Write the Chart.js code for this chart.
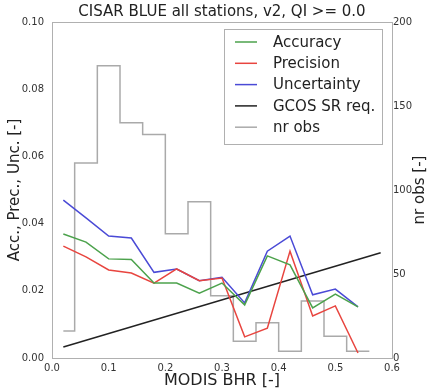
<!DOCTYPE html>
<html>
<head>
<meta charset="utf-8">
<script src="https://cdn.jsdelivr.net/npm/chart.js@4"></script>
<style>
  body { margin: 0; background: #fff; }
  #wrap { width: 428px; height: 392px; }
</style>
</head>
<body>
<div id="wrap"><canvas id="chart" width="428" height="392"></canvas></div>
<script>
// albedo bins (MODIS BHR) and stats
const binCenters = [0.02, 0.06, 0.10, 0.14, 0.18, 0.22, 0.26, 0.30, 0.34, 0.38, 0.42, 0.46, 0.50, 0.54];
const accuracy    = [0.0369, 0.0345, 0.0295, 0.0293, 0.0223, 0.0223, 0.0193, 0.0223, 0.0158, 0.0304, 0.0277, 0.0149, 0.0190, 0.0152];
const precision   = [0.0333, 0.0301, 0.0262, 0.0253, 0.0223, 0.0265, 0.0230, 0.0238, 0.0063, 0.0089, 0.0318, 0.0125, 0.0155, 0.0015];
const uncertainty = [0.0470, 0.0417, 0.0363, 0.0357, 0.0255, 0.0265, 0.0230, 0.0240, 0.0164, 0.0318, 0.0363, 0.0188, 0.0205, 0.0152];

// GCOS requirement line end points
const gcosX = [0.02, 0.58];
const gcosY = [0.0033, 0.0313];

// nr obs step outline (value holds from edge to next edge)
const obsEdges = [0.02, 0.04, 0.08, 0.12, 0.16, 0.20, 0.24, 0.28, 0.32, 0.36, 0.40, 0.44, 0.48, 0.52, 0.56];
const obsCount = [16, 116, 174, 140, 133, 74, 93, 37, 10, 21, 4, 34, 13, 4, 4];

const xTicks = [0, 0.1, 0.2, 0.3, 0.4, 0.5, 0.6];
const leftTicks = [0, 0.02, 0.04, 0.06, 0.08, 0.10];
const rightTicks = [0, 50, 100, 150, 200];

const FONT = 'DejaVu Sans';

function pts(xs, ys) {
    return xs.map((x, i) => ({ x: x, y: ys[i] }));
}

// title, frame, right axis label and boxed legend, like matplotlib
const extras = {
    id: 'extras',
    afterDraw(chart) {
        const ctx = chart.ctx;
        const a = chart.chartArea;
        ctx.save();
        ctx.strokeStyle = '#b0b0b0';
        ctx.lineWidth = 1;
        ctx.strokeRect(a.left + 0.5, a.top + 0.5, a.right - a.left, a.bottom - a.top);

        ctx.fillStyle = '#222';
        ctx.font = '15px "' + FONT + '"';
        ctx.textAlign = 'center';
        ctx.textBaseline = 'middle';
        ctx.fillText('CISAR BLUE all stations, v2, QI >= 0.0', (a.left + a.right) / 2, 12);

        ctx.save();
        ctx.translate(420, (a.top + a.bottom) / 2);
        ctx.rotate(-Math.PI / 2);
        ctx.font = '15px "' + FONT + '"';
        ctx.fillText('nr obs [-]', 0, 0);
        ctx.restore();

        // legend box
        const bx = 224, by = 29, bw = 158, bh = 115;
        ctx.fillStyle = '#fff';
        ctx.fillRect(bx, by, bw, bh);
        ctx.strokeStyle = '#b0b0b0';
        ctx.strokeRect(bx + 0.5, by + 0.5, bw, bh);
        ctx.font = '15px "' + FONT + '"';
        ctx.textAlign = 'left';
        chart.data.datasets.forEach((ds, i) => {
            const y = 42 + i * 21.3;
            ctx.strokeStyle = ds.borderColor;
            ctx.lineWidth = 1.5;
            ctx.beginPath();
            ctx.moveTo(235, y);
            ctx.lineTo(257, y);
            ctx.stroke();
            ctx.fillStyle = '#222';
            ctx.fillText(ds.label, 273, y + 1);
        });
        ctx.restore();
    }
};

new Chart(document.getElementById('chart'), {
    type: 'line',
    data: {
        datasets: [
            { label: 'Accuracy', data: pts(binCenters, accuracy), borderColor: '#4ca24c', yAxisID: 'y' },
            { label: 'Precision', data: pts(binCenters, precision), borderColor: '#e8453f', yAxisID: 'y' },
            { label: 'Uncertainty', data: pts(binCenters, uncertainty), borderColor: '#4a4ad6', yAxisID: 'y' },
            { label: 'GCOS SR req.', data: pts(gcosX, gcosY), borderColor: '#222222', yAxisID: 'y' },
            { label: 'nr obs', data: pts(obsEdges, obsCount), borderColor: '#aaaaaa', yAxisID: 'y2', stepped: true }
        ]
    },
    options: {
        responsive: false,
        animation: false,
        layout: { padding: { top: 22, left: 0, right: 0, bottom: 0 } },
        elements: {
            point: { radius: 0 },
            line: { borderWidth: 1.5, tension: 0, fill: false }
        },
        plugins: {
            legend: { display: false },
            title: { display: false },
            tooltip: { enabled: false }
        },
        scales: {
            x: {
                type: 'linear',
                min: 0, max: 0.6,
                afterFit: s => { s.height = 34; },
                afterBuildTicks: s => { s.ticks = xTicks.map(v => ({ value: v })); },
                grid: { display: false },
                border: { display: false },
                ticks: {
                    padding: -4,
                    maxRotation: 0,
                    font: { family: FONT, size: 10 },
                    color: '#333',
                    callback: v => v.toFixed(1)
                },
                title: {
                    display: true,
                    text: 'MODIS BHR [-]',
                    font: { family: FONT, size: 16 },
                    color: '#222',
                    padding: { top: 0, bottom: 2 }
                }
            },
            y: {
                position: 'left',
                min: 0, max: 0.1,
                afterFit: s => { s.width = 52; },
                afterBuildTicks: s => { s.ticks = leftTicks.map(v => ({ value: v })); },
                grid: { display: false },
                border: { display: false },
                ticks: {
                    padding: 0,
                    font: { family: FONT, size: 10 },
                    color: '#333',
                    callback: v => v.toFixed(2)
                },
                title: {
                    display: true,
                    text: 'Acc., Prec., Unc. [-]',
                    font: { family: FONT, size: 15 },
                    color: '#222',
                    padding: { top: 6, bottom: 0 }
                }
            },
            y2: {
                position: 'right',
                min: 0, max: 200,
                afterFit: s => { s.width = 36; },
                afterBuildTicks: s => { s.ticks = rightTicks.map(v => ({ value: v })); },
                grid: { display: false },
                border: { display: false },
                ticks: {
                    padding: -7,
                    font: { family: FONT, size: 10 },
                    color: '#333',
                    callback: v => String(v)
                }
            }
        }
    },
    plugins: [extras]
});
</script>
</body>
</html>
